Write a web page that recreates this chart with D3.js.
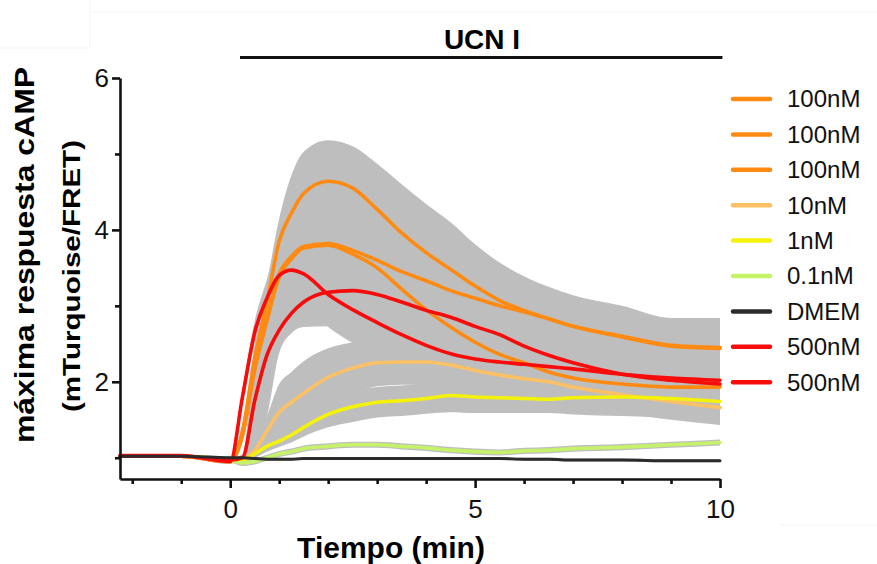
<!DOCTYPE html>
<html>
<head>
<meta charset="utf-8">
<title>UCN I - respuesta cAMP</title>
<style>
  body { margin: 0; background: #fff; }
  svg { display: block; }
  text { font-family: "Liberation Sans", Arial, sans-serif; }
</style>
</head>
<body>
<svg></svg>
<script src="https://d3js.org/d3.v7.min.js"></script>
<script>
// time points (min) and mean / sd per condition
const time   = [-2.25, -1, 0, 0.25, 0.5, 0.75, 1, 1.25, 1.5, 2, 2.5, 3, 3.5, 4, 4.5, 5, 5.5, 6, 6.5, 7, 8, 9, 10];

const m100a  = [1.02,1.02,0.95,1.35,2.3,3.05,3.85,4.22,4.48,4.64,4.55,4.27,3.96,3.7,3.48,3.26,3.07,2.94,2.83,2.73,2.6,2.48,2.45];
const sd100a = [0.02,0.02,0.03,0.1,0.2,0.25,0.3,0.5,0.55,0.54,0.55,0.6,0.64,0.64,0.62,0.55,0.5,0.45,0.42,0.41,0.4,0.36,0.39];
const m100b  = [1.02,1.02,0.95,1.3,2.2,2.85,3.42,3.65,3.78,3.82,3.73,3.6,3.45,3.33,3.2,3.1,3.0,2.92,2.83,2.73,2.59,2.47,2.44];
const sd100b = [0.02,0.02,0.03,0.1,0.2,0.3,0.35,0.3,0.3,0.3,0.3,0.3,0.3,0.3,0.3,0.3,0.3,0.3,0.3,0.3,0.3,0.3,0.3];
const m100c  = [1.02,1.02,0.95,1.3,2.15,2.8,3.38,3.62,3.76,3.8,3.68,3.5,3.22,2.95,2.72,2.52,2.36,2.25,2.13,2.05,1.97,1.93,1.93];
const sd100c = [0.02,0.02,0.03,0.1,0.2,0.3,0.35,0.3,0.3,0.3,0.3,0.3,0.3,0.3,0.3,0.3,0.3,0.3,0.3,0.3,0.3,0.3,0.3];
const m10    = [1.02,1.02,0.98,0.98,1.1,1.35,1.6,1.73,1.85,2.06,2.18,2.25,2.26,2.26,2.22,2.15,2.09,2.04,2.0,1.93,1.83,1.74,1.66];
const sd10   = [0.02,0.02,0.03,0.03,0.1,0.2,0.37,0.4,0.42,0.38,0.34,0.31,0.3,0.3,0.3,0.3,0.3,0.3,0.3,0.27,0.25,0.24,0.23];
const m1     = [1.02,1.02,0.98,0.97,1.05,1.15,1.22,1.3,1.4,1.57,1.67,1.73,1.75,1.78,1.82,1.8,1.79,1.78,1.77,1.79,1.8,1.78,1.74];
const sd1    = [0.02,0.02,0.03,0.03,0.05,0.07,0.08,0.1,0.12,0.17,0.2,0.2,0.2,0.2,0.22,0.21,0.2,0.19,0.18,0.22,0.25,0.25,0.25];
const m01    = [1.02,1.02,0.97,0.93,0.95,1.0,1.05,1.08,1.12,1.15,1.17,1.17,1.15,1.13,1.1,1.08,1.07,1.09,1.1,1.12,1.14,1.17,1.2];
const sd01   = [0.02,0.02,0.03,0.04,0.04,0.04,0.04,0.04,0.04,0.04,0.04,0.04,0.04,0.04,0.04,0.04,0.04,0.04,0.04,0.04,0.04,0.04,0.04];
const mDMEM  = [1.02,1.02,1.0,1.0,0.99,0.98,0.98,0.98,0.99,0.99,0.99,0.99,0.99,0.99,0.99,0.99,0.99,0.98,0.98,0.97,0.97,0.96,0.96];
const sdDMEM = [0.02,0.02,0.02,0.02,0.02,0.02,0.02,0.02,0.02,0.02,0.02,0.02,0.02,0.02,0.02,0.02,0.02,0.02,0.02,0.02,0.02,0.02,0.02];
const m500a  = [1.03,1.03,0.95,1.8,2.65,3.1,3.4,3.47,3.42,3.15,2.95,2.78,2.62,2.48,2.37,2.3,2.26,2.23,2.2,2.17,2.1,2.05,2.02];
const sd500a = [0.02,0.02,0.03,0.1,0.15,0.25,0.48,0.45,0.42,0.43,0.44,0.42,0.38,0.35,0.35,0.35,0.35,0.35,0.35,0.35,0.35,0.35,0.35];
const m500b  = [1.02,1.02,0.97,1.0,1.75,2.35,2.68,2.9,3.05,3.18,3.2,3.15,3.05,2.94,2.85,2.73,2.62,2.47,2.35,2.25,2.1,2.02,1.97];
const sd500b = [0.02,0.02,0.03,0.05,0.6,0.8,0.3,0.26,0.33,0.45,0.5,0.45,0.4,0.35,0.35,0.35,0.35,0.35,0.35,0.35,0.35,0.35,0.35];

const legendLabels = ["100nM", "100nM", "100nM", "10nM", "1nM", "0.1nM", "DMEM", "500nM", "500nM"];
const colors = ["#ff8a12", "#ff8a12", "#ff8a12", "#fcc065", "#f5f20a", "#c6f26a", "#2b2b2b", "#f70c0c", "#f70c0c"];

const series = [
  {mean: m100a, sd: sd100a}, {mean: m100b, sd: sd100b}, {mean: m100c, sd: sd100c},
  {mean: m10, sd: sd10}, {mean: m1, sd: sd1}, {mean: m01, sd: sd01},
  {mean: mDMEM, sd: sdDMEM}, {mean: m500a, sd: sd500a}, {mean: m500b, sd: sd500b}
].map((s, i) => ({
  label: legendLabels[i], color: colors[i],
  pts: time.map((t, j) => ({t: t, v: s.mean[j], sd: s.sd[j]}))
}));

const width = 877, height = 564;
const svg = d3.select("svg").attr("width", width).attr("height", height);

const x = d3.scaleLinear().domain([-2.25, 10]).range([120, 720]);
const y = d3.scaleLinear().domain([0.72, 6]).range([479, 78]);

// faint frame remnants from the original scan
svg.append("path")
  .attr("d", "M0,48H90V0M90,12H877M780,525H877")
  .attr("fill", "none").attr("stroke", "#f6f6f6").attr("stroke-width", 1);

// error bands
const area = d3.area()
  .curve(d3.curveMonotoneX)
  .x(d => x(d.t))
  .y0(d => y(d.v - d.sd))
  .y1(d => y(d.v + d.sd));

svg.append("g").selectAll("path")
  .data(series)
  .enter().append("path")
  .attr("d", d => area(d.pts))
  .attr("fill", "#bebebe");

// mean lines
const line = d3.line()
  .curve(d3.curveMonotoneX)
  .x(d => x(d.t))
  .y(d => y(d.v));

const drawOrder = [0, 1, 2, 3, 4, 5, 7, 8, 6];
svg.append("g").selectAll("path")
  .data(drawOrder.map(i => series[i]))
  .enter().append("path")
  .attr("d", d => line(d.pts))
  .attr("fill", "none")
  .attr("stroke", d => d.color)
  .attr("stroke-width", d => d.label == "DMEM" ? 3 : 3.6)
  .attr("stroke-linejoin", "round")
  .attr("stroke-linecap", "round");

// axes
svg.append("g")
  .attr("transform", "translate(120,0)")
  .call(d3.axisLeft(y).tickValues([2, 4, 6]).tickFormat(d3.format("d"))
    .tickSize(8).tickSizeOuter(0).tickPadding(3));
svg.append("g")
  .attr("transform", "translate(120,0)")
  .call(d3.axisLeft(y).tickValues([1, 3, 5]).tickFormat("").tickSize(5).tickSizeOuter(0))
  .select(".domain").remove();

svg.append("g")
  .attr("transform", "translate(0,479)")
  .call(d3.axisBottom(x).tickValues([0, 5, 10]).tickFormat(d3.format("d"))
    .tickSize(9).tickSizeOuter(0).tickPadding(12));
svg.append("g")
  .attr("transform", "translate(0,479)")
  .call(d3.axisBottom(x).tickValues([-2, -1, 1, 2, 3, 4, 6, 7, 8, 9]).tickFormat("").tickSize(5).tickSizeOuter(0))
  .select(".domain").remove();

svg.selectAll(".domain, .tick line")
  .attr("stroke", "#111").attr("stroke-width", 2.6);
svg.selectAll(".tick text")
  .attr("fill", "#111")
  .style("font-size", "26px")
  .style("font-family", "'Liberation Sans', Arial, sans-serif");

// axis titles
svg.append("text")
  .attr("transform", "translate(34,255) rotate(-90)")
  .attr("text-anchor", "middle")
  .attr("textLength", 376).attr("lengthAdjust", "spacingAndGlyphs")
  .style("font-size", "28px").style("font-weight", "bold")
  .text("máxima respuesta cAMP");

svg.append("text")
  .attr("transform", "translate(80,276) rotate(-90)")
  .attr("text-anchor", "middle")
  .attr("textLength", 272).attr("lengthAdjust", "spacingAndGlyphs")
  .style("font-size", "24px").style("font-weight", "bold")
  .text("(mTurquoise/FRET)");

svg.append("text")
  .attr("x", 391).attr("y", 558)
  .attr("text-anchor", "middle")
  .style("font-size", "30px").style("font-weight", "bold")
  .text("Tiempo (min)");

// stimulus bar
svg.append("line")
  .attr("x1", x(0.2)).attr("x2", x(10.05))
  .attr("y1", 57.5).attr("y2", 57.5)
  .attr("stroke", "#111").attr("stroke-width", 3);
svg.append("text")
  .attr("x", 482).attr("y", 49)
  .attr("text-anchor", "middle")
  .style("font-size", "28px").style("font-weight", "bold")
  .text("UCN I");

// legend
const legend = svg.append("g").selectAll("g")
  .data(series)
  .enter().append("g")
  .attr("transform", (d, i) => "translate(733," + (99 + i * 35.4) + ")");

legend.append("line")
  .attr("x1", 0).attr("x2", 37)
  .attr("stroke", d => d.color)
  .attr("stroke-width", 4.5)
  .attr("stroke-linecap", "round");

legend.append("text")
  .attr("x", 54)
  .attr("dy", "0.35em")
  .style("font-size", "24px")
  .attr("fill", "#111")
  .text(d => d.label);
</script>
</body>
</html>
